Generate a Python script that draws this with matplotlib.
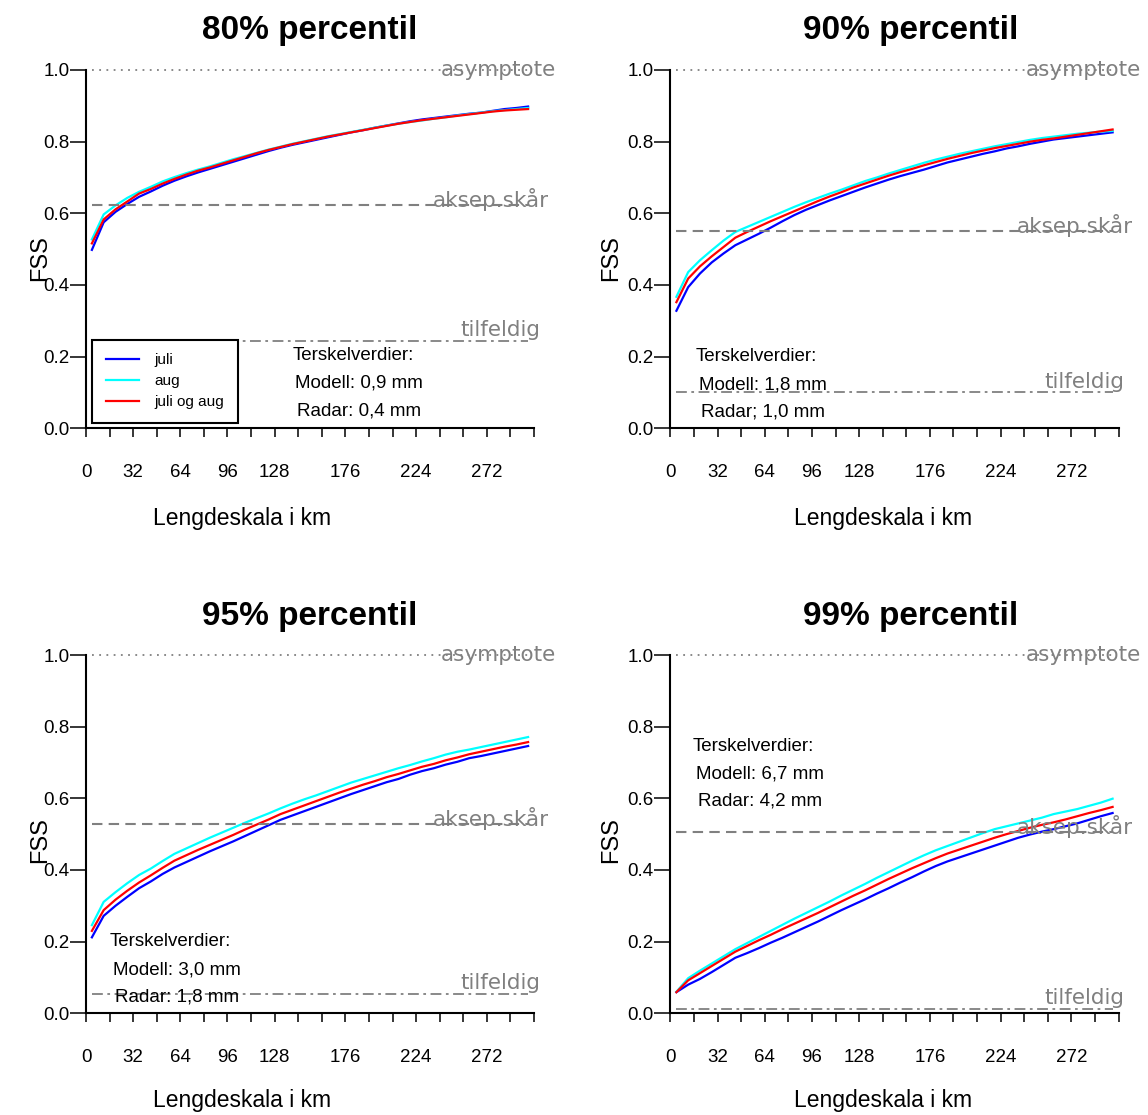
import matplotlib
matplotlib.use("Agg")
import matplotlib.pyplot as plt
from matplotlib.transforms import Bbox, TransformedBbox

plt.rcParams["font.family"] = ["Liberation Sans", "DejaVu Sans"]

# length scale in km (x values of the FSS curves)
lengde_km = [4, 12, 20, 28, 36, 44, 52, 60, 68, 76, 84, 92, 100, 108, 116, 124, 132, 140, 148,
             156, 164, 172, 180, 188, 196, 204, 212, 220, 228, 236, 244, 252, 260, 268, 276, 284, 292, 300]

# 80% percentile
juli_80 = [0.498, 0.575, 0.604, 0.626, 0.646, 0.661, 0.677, 0.691, 0.703, 0.714, 0.724, 0.734, 0.744,
           0.754, 0.764, 0.774, 0.783, 0.791, 0.798, 0.805, 0.812, 0.819, 0.826, 0.832, 0.839, 0.845,
           0.851, 0.857, 0.862, 0.866, 0.870, 0.874, 0.878, 0.881, 0.886, 0.891, 0.894, 0.898]
aug_80 = [0.527, 0.597, 0.622, 0.643, 0.660, 0.674, 0.689, 0.701, 0.712, 0.722, 0.731, 0.741, 0.751,
          0.760, 0.769, 0.778, 0.786, 0.794, 0.801, 0.808, 0.815, 0.821, 0.827, 0.833, 0.839, 0.845,
          0.850, 0.855, 0.859, 0.864, 0.868, 0.873, 0.877, 0.881, 0.885, 0.888, 0.891, 0.894]
begge_80 = [0.516, 0.583, 0.611, 0.633, 0.655, 0.668, 0.683, 0.696, 0.708, 0.719, 0.728, 0.738, 0.748,
            0.758, 0.768, 0.777, 0.785, 0.793, 0.800, 0.807, 0.814, 0.820, 0.826, 0.832, 0.838, 0.844,
            0.850, 0.855, 0.860, 0.864, 0.868, 0.872, 0.876, 0.880, 0.884, 0.887, 0.889, 0.891]

# 90% percentile
juli_90 = [0.328, 0.394, 0.432, 0.463, 0.488, 0.511, 0.527, 0.543, 0.560, 0.578, 0.595, 0.610, 0.623,
           0.636, 0.648, 0.660, 0.672, 0.683, 0.694, 0.704, 0.713, 0.722, 0.732, 0.742, 0.750, 0.758,
           0.766, 0.773, 0.781, 0.787, 0.794, 0.800, 0.806, 0.810, 0.814, 0.818, 0.822, 0.826]
aug_90 = [0.367, 0.436, 0.469, 0.497, 0.524, 0.548, 0.562, 0.576, 0.590, 0.604, 0.618, 0.631, 0.643,
          0.655, 0.666, 0.678, 0.690, 0.700, 0.711, 0.721, 0.731, 0.741, 0.750, 0.758, 0.766, 0.773,
          0.780, 0.787, 0.793, 0.799, 0.805, 0.810, 0.814, 0.818, 0.822, 0.825, 0.828, 0.830]
begge_90 = [0.352, 0.418, 0.452, 0.480, 0.506, 0.532, 0.548, 0.563, 0.578, 0.592, 0.606, 0.620, 0.634,
            0.647, 0.659, 0.672, 0.683, 0.694, 0.705, 0.715, 0.724, 0.734, 0.743, 0.752, 0.760, 0.768,
            0.775, 0.782, 0.788, 0.794, 0.800, 0.805, 0.809, 0.814, 0.819, 0.824, 0.829, 0.834]

# 95% percentile
juli_95 = [0.212, 0.272, 0.300, 0.325, 0.349, 0.368, 0.389, 0.407, 0.422, 0.437, 0.452, 0.466, 0.480,
           0.495, 0.510, 0.525, 0.540, 0.552, 0.564, 0.576, 0.588, 0.600, 0.612, 0.623, 0.634, 0.645,
           0.654, 0.666, 0.676, 0.684, 0.694, 0.702, 0.712, 0.718, 0.725, 0.732, 0.739, 0.746]
aug_95 = [0.246, 0.311, 0.338, 0.363, 0.386, 0.404, 0.425, 0.445, 0.460, 0.475, 0.490, 0.504, 0.518,
          0.532, 0.545, 0.558, 0.572, 0.585, 0.597, 0.608, 0.620, 0.632, 0.644, 0.654, 0.664, 0.674,
          0.684, 0.693, 0.703, 0.712, 0.722, 0.730, 0.736, 0.743, 0.750, 0.757, 0.764, 0.771]
begge_95 = [0.230, 0.288, 0.317, 0.342, 0.365, 0.385, 0.406, 0.426, 0.441, 0.456, 0.470, 0.484, 0.498,
            0.513, 0.527, 0.541, 0.556, 0.568, 0.580, 0.592, 0.604, 0.616, 0.627, 0.638, 0.648, 0.659,
            0.668, 0.678, 0.688, 0.696, 0.706, 0.714, 0.723, 0.730, 0.737, 0.744, 0.750, 0.757]

# 99% percentile
juli_99 = [0.059, 0.080, 0.096, 0.115, 0.135, 0.155, 0.168, 0.182, 0.197, 0.211, 0.226, 0.241, 0.256,
           0.272, 0.288, 0.303, 0.318, 0.334, 0.349, 0.365, 0.380, 0.396, 0.411, 0.424, 0.435, 0.446,
           0.457, 0.468, 0.479, 0.490, 0.499, 0.507, 0.514, 0.522, 0.530, 0.540, 0.550, 0.559]
aug_99 = [0.060, 0.098, 0.119, 0.139, 0.159, 0.179, 0.196, 0.213, 0.230, 0.247, 0.264, 0.280, 0.296,
          0.312, 0.329, 0.345, 0.361, 0.378, 0.394, 0.410, 0.426, 0.441, 0.455, 0.467, 0.479, 0.491,
          0.503, 0.514, 0.522, 0.530, 0.538, 0.546, 0.556, 0.563, 0.570, 0.579, 0.588, 0.599]
begge_99 = [0.059, 0.092, 0.112, 0.132, 0.152, 0.172, 0.188, 0.204, 0.219, 0.235, 0.250, 0.265, 0.280,
            0.296, 0.312, 0.328, 0.343, 0.359, 0.375, 0.390, 0.405, 0.419, 0.433, 0.446, 0.457, 0.468,
            0.479, 0.490, 0.500, 0.509, 0.518, 0.526, 0.533, 0.541, 0.550, 0.559, 0.567, 0.576]

titles = ["80% percentil", "90% percentil", "95% percentil", "99% percentil"]
tilfeldig = [0.244, 0.100, 0.055, 0.011]      # random forecast skill f0
aksep = [0.622, 0.550, 0.528, 0.506]          # acceptable skill 0.5 + f0/2
asymptote = 1.0
modell_mm = ["0,9", "1,8", "3,0", "6,7"]
radar_mm = ["0,4", "1,0", "1,8", "4,2"]
radar_sep = [":", ";", ":", ":"]

xtick_vals = list(range(0, 305, 16))
xtick_shown = [0, 32, 64, 96, 128, 176, 224, 272]
ytick_vals = [0.0, 0.2, 0.4, 0.6, 0.8, 1.0]

series = [(juli_80, aug_80, begge_80), (juli_90, aug_90, begge_90),
          (juli_95, aug_95, begge_95), (juli_99, aug_99, begge_99)]

W, H = 1148, 1115
fig = plt.figure(figsize=(W / 100, H / 100), dpi=100)

# axes layout in pixels: (left, bottom of axis, width, height)
ax_left = [86, 670.5, 86, 670.5]
ax_bottom = [428.3, 428.3, 1013.3, 1013.3]
ax_w, ax_h = 448, 358.3

# where the title / labels sit (pixels)
title_xy = [(310, 31), (911, 31), (310, 616), (911, 616)]
xlabel_xy = [(242, 518), (883, 518), (242, 1101), (883, 1101)]
ylabel_xy = [(40, 258), (611, 258), (40, 840), (611, 840)]

# annotation text in data coordinates (x, y of first line)
note_xy = [(140, 0.203), (17.3, 0.199), (16, 0.199), (15.3, 0.746)]
note_step = 0.077

gray = "#808080"


def px(x, y):
    return x / W, 1 - y / H


for i in range(4):
    x0, y0 = px(ax_left[i], ax_bottom[i])
    ax = fig.add_axes([x0, y0, ax_w / W, ax_h / H])

    juli, aug, begge = series[i]
    ax.plot(lengde_km, juli, color="#0000ff", lw=1.6, label="juli")
    ax.plot(lengde_km, aug, color="#00ffff", lw=1.6, label="aug")
    ax.plot(lengde_km, begge, color="#ff0000", lw=1.6, label="juli og aug")

    # reference lines
    ax.plot([4, 300], [asymptote, asymptote], color=gray, lw=1.3, ls=(0, (1, 3)), clip_on=False)
    ax.plot([4, 300], [aksep[i], aksep[i]], color=gray, lw=1.5, ls=(0, (5, 3)))
    ax.plot([4, 300], [tilfeldig[i], tilfeldig[i]], color=gray, lw=1.3, ls=(0, (6, 2.5, 1.5, 2.5)))

    lab_kw = dict(textcoords="offset points", va="baseline", ha="left", color=gray,
                  fontsize=15.5, family="DejaVu Sans", annotation_clip=False)
    labels = [
        ax.annotate("asymptote", xy=(241, asymptote), xytext=(0, -4.5), **lab_kw),
        ax.annotate("aksep.skår", xy=(235, aksep[i]), xytext=(0, -1.2), **lab_kw),
        ax.annotate("tilfeldig", xy=(254, tilfeldig[i]), xytext=(0, 3.5), **lab_kw),
    ]
    # left column labels are cut off where the panel ends
    clip_right = 556 if i % 2 == 0 else W
    clip = TransformedBbox(Bbox.from_extents(0, 0, clip_right / W, 1), fig.transFigure)
    for t in labels:
        t.set_clip_on(True)
        t.set_clip_box(clip)

    # threshold notes
    nx, ny = note_xy[i]
    ax.text(nx, ny, "Terskelverdier:", fontsize=13.5, va="center", ha="left")
    ax.text(nx + 2, ny - note_step, f"Modell: {modell_mm[i]} mm", fontsize=13.5, va="center", ha="left")
    ax.text(nx + 3.5, ny - 2 * note_step, f"Radar{radar_sep[i]} {radar_mm[i]} mm", fontsize=13.5,
            va="center", ha="left")

    ax.set_xlim(0, 304)
    ax.set_ylim(0, 1)
    ax.set_xticks(xtick_vals)
    ax.set_xticklabels([str(v) if v in xtick_shown else "" for v in xtick_vals])
    ax.set_yticks(ytick_vals)
    ax.set_yticklabels([f"{v:.1f}" for v in ytick_vals])
    ax.tick_params(axis="x", direction="out", length=6.3, width=1.1, pad=19.5, labelsize=13.5)
    ax.tick_params(axis="y", direction="out", length=11.5, width=1.1, pad=0.5, labelsize=13.5)
    ax.spines["top"].set_visible(False)
    ax.spines["right"].set_visible(False)
    ax.spines["left"].set_linewidth(1.5)
    ax.spines["bottom"].set_linewidth(1.5)

    if i == 0:
        leg = ax.legend(loc="lower left", bbox_to_anchor=(0.0134, 0.015), borderaxespad=0,
                        fontsize=11, handlelength=2.15, handletextpad=1.05, labelspacing=0.45,
                        borderpad=0.9, fancybox=False, framealpha=1)
        leg.get_frame().set_edgecolor("black")
        leg.get_frame().set_linewidth(1.5)

    tx, ty = px(*title_xy[i])
    fig.text(tx, ty, titles[i], fontsize=24, fontweight="bold", ha="center", va="center")
    lx, ly = px(*xlabel_xy[i])
    fig.text(lx, ly, "Lengdeskala i km", fontsize=16.5, ha="center", va="center")
    yx, yy = px(*ylabel_xy[i])
    fig.text(yx, yy, "FSS", fontsize=17, ha="center", va="center", rotation=90)

fig.savefig("out.png", dpi=100)
